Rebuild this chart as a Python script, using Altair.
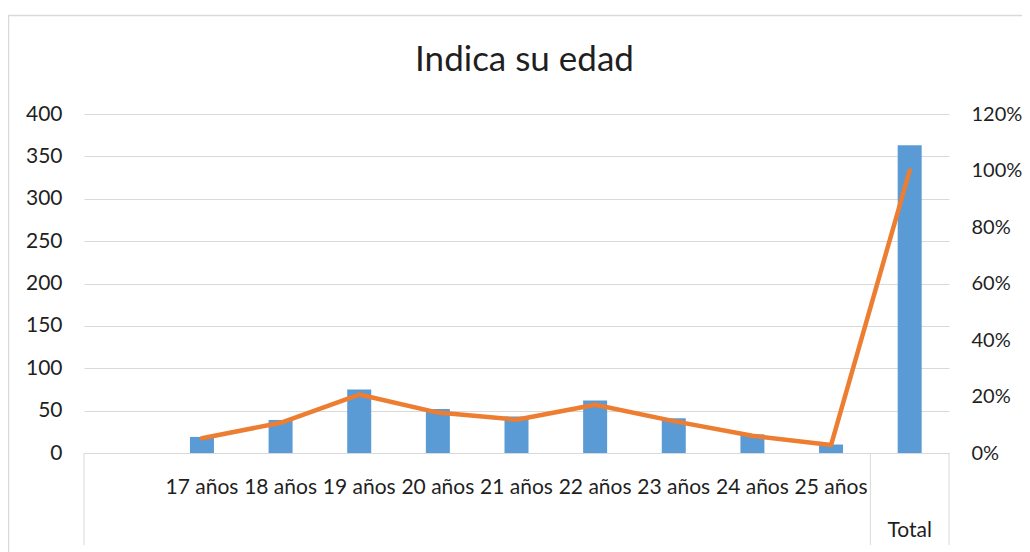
import altair as alt
import pandas as pd

# ---- data ----
categories = [" ", "17 años", "18 años", "19 años", "20 años", "21 años",
              "22 años", "23 años", "24 años", "25 años", "Total"]
bar_categories = ["17 años", "18 años", "19 años", "20 años", "21 años",
                  "22 años", "23 años", "24 años", "25 años", "Total"]
counts = [19, 39, 75, 52, 43, 62, 41, 22, 10, 363]
percents = [0.052, 0.107, 0.207, 0.143, 0.118, 0.171, 0.113, 0.061, 0.028, 1.0]
left_ticks = [0, 50, 100, 150, 200, 250, 300, 350, 400]
right_ticks = [0, 0.2, 0.4, 0.6, 0.8, 1.0, 1.2]
group_label = ["Total"]

FONT = "Lato"
TXT = "#1F1F1F"
GRID = "#D9D9D9"
W, H = 865, 339

df = pd.DataFrame({"cat": bar_categories, "n": counts, "pct": percents})

xscale = alt.Scale(domain=categories, paddingInner=0, paddingOuter=0)
xenc = alt.X("cat:N", scale=xscale, sort=categories, title=None,
             axis=alt.Axis(labelAngle=0, labelFont=FONT, labelFontSize=21,
                           labelColor=TXT, labelBaseline="alphabetic",
                           labelPadding=40, ticks=False, domainColor=GRID,
                           domainWidth=1, labelOverlap=False, labelLimit=200,
                           grid=False,
                           labelExpr="datum.value == 'Total' ? '' : datum.value"))

bars = alt.Chart(df).mark_bar(size=24, color="#5B9BD5").encode(
    x=xenc,
    y=alt.Y("n:Q", scale=alt.Scale(domain=[0, 400], nice=False), title=None,
            axis=alt.Axis(values=left_ticks, labelFont=FONT, labelFontSize=21,
                          labelColor=TXT, labelPadding=22, ticks=False,
                          domain=False, gridColor=GRID, gridWidth=1)),
)

line = alt.Chart(df).mark_line(color="#ED7D31", strokeWidth=4.5,
                               strokeCap="round", strokeJoin="round").encode(
    x=alt.X("cat:N", scale=xscale, sort=categories),
    y=alt.Y("pct:Q", scale=alt.Scale(domain=[0, 1.2], nice=False), title=None,
            axis=alt.Axis(values=right_ticks, format=".0%", orient="right",
                          labelFont=FONT, labelFontSize=20, labelColor=TXT,
                          labelPadding=22, ticks=False, domain=False,
                          grid=False)),
)

sep_start = alt.Chart(pd.DataFrame({"cat": [" ", "Total"]})).mark_rule(
    color=GRID, strokeWidth=1).encode(
    x=alt.X("cat:N", scale=xscale, bandPosition=0),
    y=alt.value(H), y2=alt.value(H + 92))

sep_end = alt.Chart(pd.DataFrame({"cat": ["Total"]})).mark_rule(
    color=GRID, strokeWidth=1).encode(
    x=alt.X("cat:N", scale=xscale, bandPosition=1),
    y=alt.value(H), y2=alt.value(H + 92))

total_lbl = alt.Chart(pd.DataFrame({"cat": group_label})).mark_text(
    font=FONT, fontSize=21, color=TXT, baseline="alphabetic").encode(
    x=alt.X("cat:N", scale=xscale),
    y=alt.value(H + 84),
    text="cat:N")

border = alt.Chart(pd.DataFrame({"a": [0]})).mark_rect(
    fill=None, stroke=GRID, strokeWidth=1.5).encode(
    x=alt.value(-75.5), y=alt.value(-98.5),
    x2=alt.value(W + 120), y2=alt.value(H + 150))

chart = alt.layer(border, bars, line, sep_start, sep_end, total_lbl).resolve_scale(
    y="independent"
).properties(
    width=W, height=H,
    title=alt.Title("Indica su edad", font=FONT, fontSize=35, fontWeight="normal",
                    color=TXT, anchor="middle", frame="group", dx=8,
                    baseline="alphabetic", offset=-91.5),
    autosize=alt.AutoSizeParams(type="none"),
    padding={"left": 76, "top": 106, "right": 73, "bottom": 99},
    background="white",
).configure_view(stroke=None)

chart.save("out.html", embed_options={"renderer": "svg", "actions": False})
